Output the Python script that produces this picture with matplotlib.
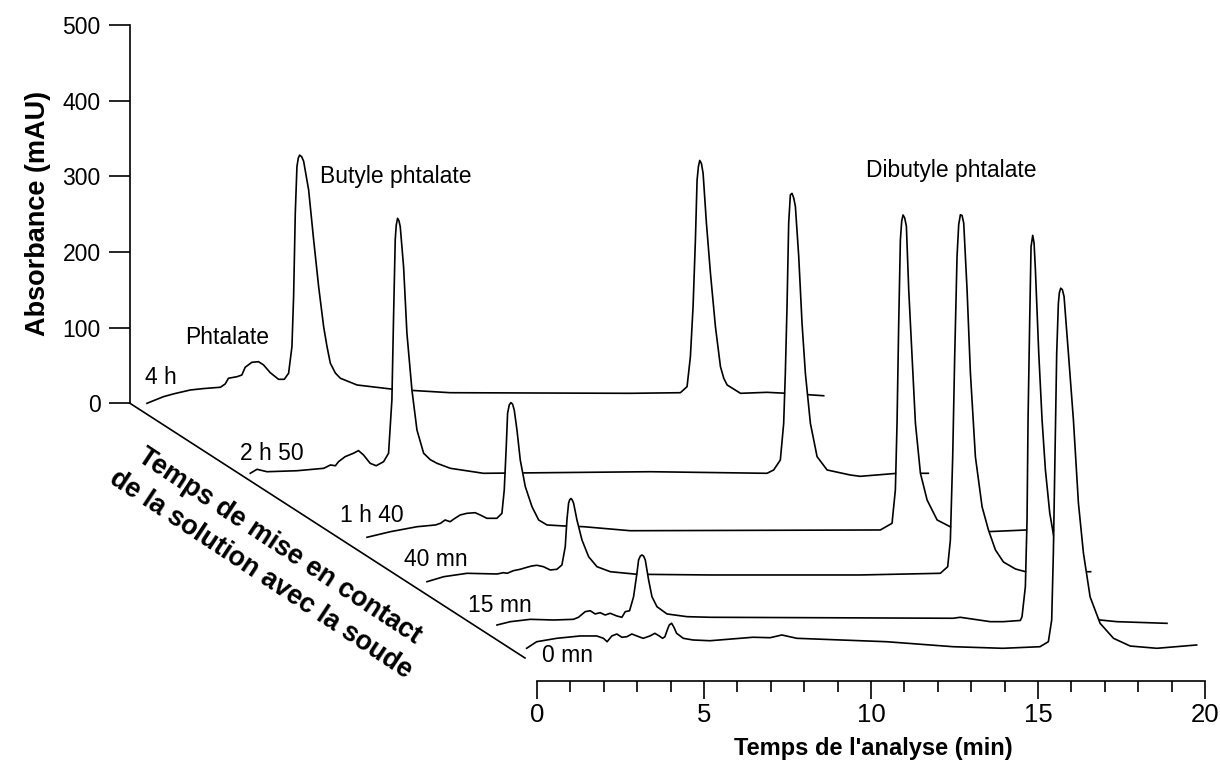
import matplotlib
matplotlib.use("Agg")
import matplotlib.pyplot as plt
from matplotlib import font_manager
from matplotlib.lines import Line2D
from matplotlib.transforms import ScaledTranslation
from matplotlib.ticker import MultipleLocator

# chromatograms, time in min (bottom axis), absorbance in mAU above each trace's own baseline
labels = ["4 h", "2 h 50", "1 h 40", "40 mn", "15 mn", "0 mn"]

t_4h = [-0.30, 0.19, 0.50, 1.00, 1.40, 1.90, 2.04, 2.14, 2.40, 2.54, 2.64, 2.84, 3.04, 3.19,
        3.39, 3.64, 3.81, 3.94, 4.04, 4.09, 4.14, 4.19, 4.23, 4.27, 4.33, 4.39, 4.54, 4.69,
        4.84, 4.99, 5.09, 5.19, 5.34, 5.49, 5.99, 7.08, 8.78, 14.17, 15.67, 15.87, 15.97,
        16.05, 16.12, 16.17, 16.21, 16.25, 16.30, 16.35, 16.45, 16.57, 16.72, 16.87, 16.97,
        17.07, 17.47, 18.26, 18.86, 19.96]
a_4h = [0, 8.7, 12.5, 17.6, 19.5, 21.2, 25.5, 33.1, 35.2, 37.4, 47.6, 54.2, 55.0, 50.7,
        40.5, 31.7, 31.7, 39.7, 74.9, 141, 251, 313, 324, 328, 326, 320, 282, 216,
        154, 101, 75, 52.9, 40, 33.1, 24.2, 18.5, 14.0, 13.2, 14.0, 22.0, 61.6,
        128, 216, 295, 313, 321, 317, 304, 238, 172, 101, 48.4, 33,
        24.2, 13.2, 14.5, 13.2, 10.0]

t_2h50 = [-0.30, -0.10, 0.20, 1.10, 1.90, 2.10, 2.25, 2.34, 2.54, 2.79, 2.94, 3.09, 3.29, 3.47,
          3.69, 3.84, 3.94, 3.99, 4.04, 4.07, 4.11, 4.15, 4.19, 4.29, 4.39, 4.54, 4.69, 4.89,
          5.09, 5.29, 5.69, 6.68, 11.68, 15.17, 15.37, 15.57, 15.67, 15.72, 15.77, 15.82,
          15.87, 15.92, 15.97, 16.02, 16.12, 16.22, 16.32, 16.47, 16.67, 16.97, 17.66, 17.96,
          19.07, 20.00]
a_2h50 = [0, 5.3, 2.1, 3.4, 6.6, 11.0, 10.0, 15.3, 22.0, 26.5, 30.0, 24.2, 13.2, 10.0,
          15.3, 26.5, 97, 207, 309, 328, 337, 334, 326, 273, 185, 110, 57.3, 26.5,
          18, 13.2, 6.6, 0, 2.1, 0, 4.4, 17.6, 66, 133, 220, 331,
          368, 370, 364, 353, 287, 198, 132, 66, 22, 4.4, -2.2, -4.0,
          0, 0]

t_1h40 = [-0.30, 0.40, 1.20, 1.75, 1.90, 2.04, 2.19, 2.29, 2.49, 2.69, 2.94, 3.09, 3.29, 3.59,
          3.74, 3.81, 3.87, 3.91, 3.96, 4.01, 4.06, 4.11, 4.19, 4.29, 4.44, 4.64, 4.84, 5.09,
          5.59, 6.19, 7.58, 15.07, 15.42, 15.52, 15.57, 15.62, 15.67, 15.71, 15.75, 15.80,
          15.85, 15.92, 16.02, 16.12, 16.27, 16.47, 16.77, 17.16, 18.26, 19.46, 20.34]
a_1h40 = [0, 7.4, 14.0, 16.3, 18.5, 22.9, 20.6, 23.8, 29.5, 31.7, 32.5, 29.5, 25.1, 25.1,
          31.7, 62.6, 120, 164, 175, 178, 176, 168, 142, 102, 67, 40.5, 22.9, 16.3,
          15.0, 14.0, 8.7, 9.7, 18.5, 62.6, 151, 283, 393, 418, 426, 422,
          411, 327, 239, 151, 84.7, 49.3, 22.9, 14.0, 7.4, 9.7, 9.7]

t_40mn = [-0.30, 0.20, 0.90, 1.80, 1.99, 2.10, 2.29, 2.49, 2.69, 2.84, 2.99, 3.19, 3.39, 3.59,
          3.74, 3.84, 3.89, 3.94, 3.97, 4.01, 4.05, 4.09, 4.19, 4.34, 4.54, 4.79, 5.19, 5.99,
          8.18, 12.67, 15.07, 15.29, 15.37, 15.44, 15.50, 15.57, 15.62, 15.67, 15.72, 15.77,
          15.87, 15.97, 16.12, 16.32, 16.51, 16.72, 16.96, 17.32, 17.62, 19.57]
a_40mn = [0, 6.6, 11.1, 10.2, 11.9, 11.1, 14.6, 16.4, 19.0, 20.8, 21.7, 19.8, 15.5, 16.4,
          22.1, 46.3, 81.6, 103.7, 108, 110, 108, 103.7, 81.6, 55.2, 33.0, 19.8, 13.2, 9.8,
          8.9, 8.9, 11.1, 19.8, 55, 165, 298, 430, 472, 485, 484, 474,
          386, 276, 165, 99, 68.4, 41.9, 26, 16.8, 13.2, 13.2]

t_15mn = [-0.30, 0.10, 0.70, 1.40, 1.99, 2.14, 2.34, 2.49, 2.64, 2.79, 2.94, 3.09, 3.29, 3.44,
          3.54, 3.67, 3.79, 3.89, 3.94, 3.99, 4.04, 4.09, 4.14, 4.24, 4.34, 4.49, 4.79, 5.39,
          6.09, 13.36, 13.57, 14.47, 14.86, 15.37, 15.42, 15.52, 15.57, 15.60, 15.65, 15.69,
          15.74, 15.78, 15.82, 15.92, 16.02, 16.12, 16.25, 16.39, 16.57, 16.87, 17.16, 17.46,
          17.76, 18.26, 19.76]
a_15mn = [0, 4.4, 7.5, 6.6, 7.5, 10.2, 17.6, 18.9, 14.6, 16.3, 13.2, 15.5, 11.9, 10.2,
          17.6, 18.9, 37.4, 68.4, 86, 91, 92.6, 91, 86, 59.5, 37.4, 24.2, 14.6, 11,
          10.2, 8.9, 10.2, 4.4, 4.4, 6.0, 11, 50.7, 139, 271, 403, 500,
          515, 505, 470, 360, 271, 205, 148, 112, 73, 36, 20, 12,
          6.6, 4.4, 2.2]

t_0mn = [-0.31, -0.01, 0.59, 1.29, 1.79, 1.99, 2.10, 2.24, 2.39, 2.54, 2.69, 2.84, 2.99, 3.18,
         3.38, 3.53, 3.66, 3.76, 3.83, 3.90, 3.96, 4.03, 4.10, 4.18, 4.38, 4.67, 5.18, 6.47,
         6.98, 7.33, 7.78, 10.47, 12.46, 13.95, 15.06, 15.31, 15.41, 15.46, 15.51, 15.56,
         15.61, 15.64, 15.68, 15.73, 15.78, 15.91, 16.06, 16.21, 16.36, 16.56, 16.86, 17.26,
         17.76, 18.56, 19.75]
a_0mn = [0, 8.7, 13.2, 16.3, 16.3, 13.2, 8.7, 16.3, 18.9, 14.6, 15.3, 18.9, 16.3, 13.2,
         16.3, 19.8, 16.3, 13.2, 15.3, 24.2, 30.8, 33.1, 27.8, 19.8, 13.2, 11.0, 10.0, 14.6,
         14.0, 17.6, 13.2, 8.7, 2.1, 0, 2.1, 8.7, 37.4, 126, 258, 390,
         456, 470, 476, 474, 465, 390, 302, 192, 126, 68, 33, 13.2,
         3.0, 0, 4.4]

times = [t_4h, t_2h50, t_1h40, t_40mn, t_15mn, t_0mn]
absorb = [a_4h, a_2h50, a_1h40, a_40mn, a_15mn, a_0mn]

# ---- layout (pixels of the 1220x766 picture, origin top-left) ----
W, H = 1220, 766
# shift of each trace relative to the front one (0 mn), right / up in pixels
shift_x = [-380, -276.7, -160, -100, -30, 0]
shift_y = [245, 175, 111, 66.6, 23.3, 0]
label_pos = [(161, 377), (272, 453), (372, 515), (436, 559), (500, 606), (567, 656)]


def fx(x):
    return x / W


def fy(y):
    return 1 - y / H


names = {f.name for f in font_manager.fontManager.ttflist}
SANS = "Liberation Sans"
NARROW = "Liberation Sans Narrow" if "Liberation Sans Narrow" in names else SANS
narrow_ok = NARROW != SANS
plt.rcParams["font.family"] = SANS

fig = plt.figure(figsize=(W / 100, H / 100), dpi=100)

# front trace axes: time 0..20 min, 0 mAU of the 0 mn trace at y=648.3
px_per_mau = (403.3 - 25) / 500
ax = fig.add_axes([fx(537), fy(681), (1205 - 537) / W, (681 - 25) / H])
ax.set_xlim(0, 20)
ax.set_ylim(-(681 - 648.3) / px_per_mau, (648.3 - 25) / px_per_mau)
for s in ["left", "right", "top"]:
    ax.spines[s].set_visible(False)
ax.spines["bottom"].set_linewidth(1.2)
ax.set_yticks([])
ax.set_xticks([0, 5, 10, 15, 20])
ax.xaxis.set_minor_locator(MultipleLocator(1))
ax.tick_params(axis="x", which="major", direction="out", length=13, width=1.2, pad=3,
               labelsize=21 if narrow_ok else 18.5)
ax.tick_params(axis="x", which="minor", direction="out", length=8, width=1.2)
for lab in ax.get_xticklabels():
    lab.set_fontfamily(NARROW)
ax.patch.set_visible(False)

# traces from back to front, each hides what lies behind it
for i, (t, a) in enumerate(zip(times, absorb)):
    tr = ax.transData + ScaledTranslation(shift_x[i] / 100, shift_y[i] / 100, fig.dpi_scale_trans)
    lo = [-4] * len(t)
    ax.fill_between(t, a, lo, transform=tr, color="white", lw=0, zorder=2 + i, clip_on=False)
    ax.plot(t, a, transform=tr, color="black", lw=1.2, zorder=2.5 + i, clip_on=False,
            solid_joinstyle="round")

# absorbance axis of the back trace
axl = fig.add_axes([fx(130), fy(403.3), 0.01, (403.3 - 25) / H])
axl.set_ylim(0, 500)
axl.set_yticks([0, 100, 200, 300, 400, 500])
axl.set_xticks([])
for s in ["right", "top", "bottom"]:
    axl.spines[s].set_visible(False)
axl.spines["left"].set_linewidth(1.2)
axl.tick_params(axis="y", direction="out", length=15, width=1.2, pad=6, labelsize=16.5)
axl.patch.set_visible(False)

# depth axis
fig.add_artist(Line2D([fx(130), fx(525)], [fy(403.3), fy(658)], color="black", lw=1.2,
                      transform=fig.transFigure))

for lab, (x, y) in zip(labels, label_pos):
    fig.text(fx(x), fy(y), lab, fontsize=16.5, ha="center", va="center", zorder=20)

fig.text(fx(227), fy(338), "Phtalate", fontsize=16.5, ha="center", va="center")
fig.text(fx(396), fy(176), "Butyle phtalate", fontsize=16.5, ha="center", va="center")
fig.text(fx(951), fy(170), "Dibutyle phtalate", fontsize=16.5, ha="center", va="center")

fig.text(fx(38), fy(213), "Absorbance (mAU)", fontsize=19.5, fontweight="bold",
         rotation=90, ha="center", va="center")
fig.text(fx(873), fy(748), "Temps de l'analyse (min)", family=NARROW,
         fontsize=20 if narrow_ok else 17, fontweight="bold", ha="center", va="center")
fig.text(fx(279), fy(546), "Temps de mise en contact", fontsize=19.4, fontweight="bold",
         rotation=-33.5, rotation_mode="anchor", ha="center", va="center")
fig.text(fx(261), fy(575), "de la solution avec la soude", fontsize=19.4, fontweight="bold",
         rotation=-33.5, rotation_mode="anchor", ha="center", va="center")

fig.savefig("out.png", dpi=100)
